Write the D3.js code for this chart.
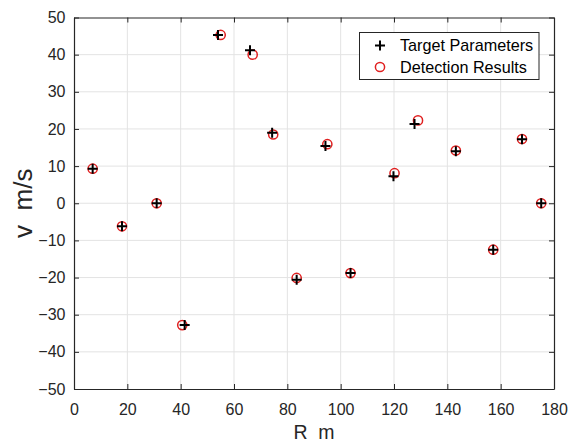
<!DOCTYPE html>
<html><head><meta charset="utf-8">
<script src="https://cdn.jsdelivr.net/npm/d3@7"></script>
<style>body{margin:0;background:#fff}svg{display:block}text{font-family:"Liberation Sans",Arial,sans-serif}</style>
</head><body><svg id="c" width="568" height="443"></svg>
<script>
const targetR = [7, 18, 31, 41.5, 54, 66, 74.3, 83.5, 94.3, 103.7, 119.8, 127.7, 143.2, 157.2, 168, 175.2];
const targetV = [9.3, -6.2, 0, -32.8, 45.3, 41.2, 19, -20.6, 15.4, -18.8, 7.3, 21.3, 14, -12.5, 17.2, 0];
const detectR = [7, 18, 31, 40.6, 55, 67, 74.7, 83.5, 95, 103.7, 120.2, 129, 143.2, 157.2, 168, 175.2];
const detectV = [9.3, -6.2, 0, -32.8, 45.3, 40, 18.5, -20.1, 15.9, -18.8, 8.1, 22.3, 14.2, -12.5, 17.3, 0];
const xTicks = [0, 20, 40, 60, 80, 100, 120, 140, 160, 180];
const yTicks = [-50, -40, -30, -20, -10, 0, 10, 20, 30, 40, 50];
const legendLabels = ["Target Parameters", "Detection Results"];
const xLabel = "R  m", yLabel = "v  m/s";

const svg = d3.select("#c");
const L = 74, R = 554, T = 17.5, B = 389;
const x = d3.scaleLinear().domain([0, 180]).range([L, R]);
const y = d3.scaleLinear().domain([-50, 50]).range([B, T]);
const axisCol = "#262626";

// grid
const g = svg.append("g");
g.selectAll(".gx").data(xTicks.slice(1, -1)).enter().append("line")
  .attr("x1", d => x(d)).attr("x2", d => x(d)).attr("y1", T).attr("y2", B)
  .attr("stroke", "#e3e3e3").attr("stroke-width", 1);
g.selectAll(".gy").data(yTicks.slice(1, -1)).enter().append("line")
  .attr("y1", d => y(d)).attr("y2", d => y(d)).attr("x1", L).attr("x2", R)
  .attr("stroke", "#e3e3e3").attr("stroke-width", 1);

// axes (ticks inward)
function styleAxis(sel) {
  sel.selectAll("path").attr("stroke", axisCol);
  sel.selectAll("line").attr("stroke", axisCol);
  sel.selectAll("text").attr("fill", axisCol).style("font-size", "16px").style("font-family", '"Liberation Sans",Arial,sans-serif');
}
svg.append("g").attr("transform", `translate(0,${B})`)
  .call(d3.axisBottom(x).tickValues(xTicks).tickSize(-5).tickSizeOuter(0).tickPadding(14.5))
  .call(styleAxis);
svg.append("g").attr("transform", `translate(0,${T})`)
  .call(d3.axisTop(x).tickValues(xTicks).tickSize(-5).tickSizeOuter(0).tickFormat(""))
  .call(styleAxis);
svg.append("g").attr("transform", `translate(${L},0)`)
  .call(d3.axisLeft(y).tickValues(yTicks).tickSize(-5).tickSizeOuter(0).tickPadding(8.5))
  .call(styleAxis);
svg.append("g").attr("transform", `translate(${R},0)`)
  .call(d3.axisRight(y).tickValues(yTicks).tickSize(-5).tickSizeOuter(0).tickFormat(""))
  .call(styleAxis);
svg.selectAll(".domain").attr("stroke-width", 1.2);

// axis labels
svg.append("text").attr("x", (L + R) / 2).attr("y", 439).attr("text-anchor", "middle")
  .attr("fill", axisCol).style("font-size", "19.5px").style("white-space", "pre").text(xLabel);
svg.append("text").attr("transform", `translate(32,${(T + B) / 2}) rotate(-90)`).attr("text-anchor", "middle")
  .attr("fill", axisCol).style("font-size", "26px").style("white-space", "pre").text(yLabel);

// markers
const detData = detectR.map((r, i) => ({r, v: detectV[i]}));
const tgtData = targetR.map((r, i) => ({r, v: targetV[i]}));
svg.append("g").selectAll("circle").data(detData).enter().append("circle")
  .attr("cx", d => x(d.r)).attr("cy", d => y(d.v)).attr("r", 4.6)
  .attr("fill", "none").attr("stroke", "#e02020").attr("stroke-width", 1.5);
const plus = (sel, s) => sel.append("path")
  .attr("d", d => `M${x(d.r) - s},${y(d.v)}H${x(d.r) + s}M${x(d.r)},${y(d.v) - s}V${y(d.v) + s}`)
  .attr("stroke", "#000").attr("stroke-width", 2).attr("fill", "none");
svg.append("g").selectAll("g").data(tgtData).enter().append("g").call(s => plus(s, 5));

// legend
const lg = svg.append("g");
lg.append("rect").attr("x", 359.5).attr("y", 32.5).attr("width", 179.5).attr("height", 47)
  .attr("fill", "#fff").attr("stroke", axisCol).attr("stroke-width", 1);
const lx = 380, ly1 = 45.5, ly2 = 67;
lg.append("path").attr("d", `M${lx - 5},${ly1}H${lx + 5}M${lx},${ly1 - 5}V${ly1 + 5}`)
  .attr("stroke", "#000").attr("stroke-width", 2);
lg.append("circle").attr("cx", lx).attr("cy", ly2).attr("r", 4.6).attr("fill", "none")
  .attr("stroke", "#e02020").attr("stroke-width", 1.5);
lg.selectAll("text").data(legendLabels).enter().append("text")
  .attr("x", 400).attr("y", (d, i) => [51.3, 72.5][i]).attr("fill", "#000")
  .style("font-size", "16.2px").text(d => d);
</script></body></html>
